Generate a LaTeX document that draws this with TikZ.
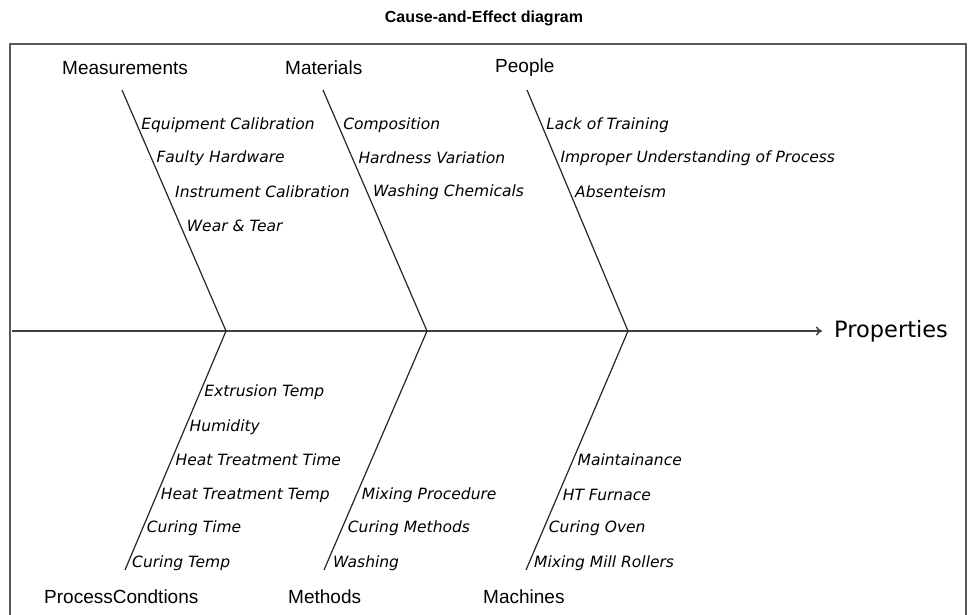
\documentclass[tikz,border=0pt]{standalone}
\usepackage{fontspec}
\setmainfont{Liberation Sans}
\newfontfamily\itemfont{DejaVu Sans}
\newfontfamily\propfont{DejaVu Sans}
\usetikzlibrary{arrows.meta}
\begin{document}
\begin{tikzpicture}[x=1pt,y=-1pt,
  bone/.style={line width=1.2pt,black!85},
  spine/.style={line width=1.5pt,black!75,-{To[length=6pt,width=9pt]}},
  frame/.style={line width=2pt,black!65},
  cat/.style={inner sep=0pt,anchor=west,font=\fontsize{19}{21}\selectfont},
  item/.style={inner sep=0pt,anchor=west,xshift=4pt,font=\itemfont\itshape\fontsize{15.5}{17}\selectfont},
  ttl/.style={inner sep=0pt,font=\bfseries\fontsize{16}{18}\selectfont}]
\useasboundingbox (0,0) rectangle (968,615);
\node[ttl] (title) at (484,18) {Cause-and-Effect diagram};
\draw[frame] (10,625) -- (10,44) -- (966,44) -- (966,625);
% spine
\coordinate (tail) at (12,331);
\coordinate (head) at (822,331);
\node[inner sep=0pt,anchor=west,font=\propfont\fontsize{22.5}{24}\selectfont] (prop) at (834,331) {Properties};
\draw[spine] (tail) -- (head);
% junctions
\coordinate (j1) at (226,331);
\coordinate (j2) at (427,331);
\coordinate (j3) at (628,331);
% top bone ends
\coordinate (t1) at (122,90);
\coordinate (t2) at (323,90);
\coordinate (t3) at (527,90);
% bottom bone ends
\coordinate (b1) at (125,570);
\coordinate (b2) at (324,570);
\coordinate (b3) at (526,570);
\draw[bone] (t1) -- (j1) -- (b1);
\draw[bone] (t2) -- (j2) -- (b2);
\draw[bone] (t3) -- (j3) -- (b3);
% category labels
\node[cat] (meas) at (62,68) {Measurements};
\node[cat] (mat) at (285,68) {Materials};
\node[cat] (ppl) at (495,68) {People};
\node[cat] (pc) at (44,597) {ProcessCondtions};
\node[cat] (meth) at (288,597) {Methods};
\node[cat] (mach) at (483,597) {Machines};
% Measurements items
\node[item] (m1) at (137.1,125) {Equipment Calibration};
\node[item] (m2) at (152.3,158) {Faulty Hardware};
\node[item] (m3) at (171.0,192) {Instrument Calibration};
\node[item] (m4) at (182.7,226) {Wear \& Tear};
% Materials items
\node[item] (a1) at (339.1,125) {Composition};
\node[item] (a2) at (354.3,158) {Hardness Variation};
\node[item] (a3) at (369.0,192) {Washing Chemicals};
% People items
\node[item] (p1) at (542.1,125) {Lack of Training};
\node[item] (p2) at (556.3,158) {Improper Understanding of Process};
\node[item] (p3) at (571.0,192) {Absenteism};
% Process conditions items
\node[item] (c1) at (200.2,392) {Extrusion Temp};
\node[item] (c2) at (185.4,427) {Humidity};
\node[item] (c3) at (171.5,460) {Heat Treatment Time};
\node[item] (c4) at (156.7,495) {Heat Treatment Temp};
\node[item] (c5) at (142.7,528) {Curing Time};
\node[item] (c6) at (128.0,563) {Curing Temp};
% Methods items
\node[item] (e1) at (357.7,495) {Mixing Procedure};
\node[item] (e2) at (343.7,528) {Curing Methods};
\node[item] (e3) at (329.0,563) {Washing};
% Machines items
\node[item] (h1) at (573.5,460) {Maintainance};
\node[item] (h2) at (558.7,495) {HT Furnace};
\node[item] (h3) at (544.7,528) {Curing Oven};
\node[item] (h4) at (530.0,563) {Mixing Mill Rollers};
\end{tikzpicture}
\end{document}
